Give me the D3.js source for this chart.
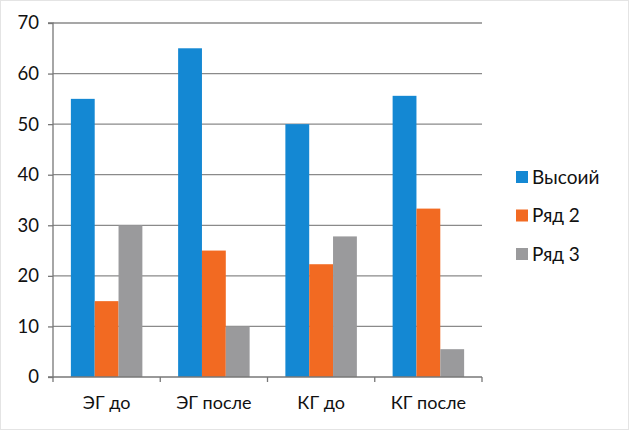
<!DOCTYPE html>
<html><head><meta charset="utf-8">
<script src="https://cdn.jsdelivr.net/npm/d3@7"></script>
<style>body{margin:0;background:#fff}svg{display:block}text{font-family:Lato,"Open Sans",sans-serif;fill:#111}</style>
</head><body>
<svg id="c" width="629" height="430"></svg>
<script>
const categories = ["ЭГ до", "ЭГ после", "КГ до", "КГ после"];
const seriesNames = ["Высоий", "Ряд 2", "Ряд 3"];
const series1 = [55, 65, 50, 55.6];
const series2 = [15, 25, 22.3, 33.3];
const series3 = [30, 10, 27.8, 5.5];
const yTicks = [0, 10, 20, 30, 40, 50, 60, 70];
const colors = ["#1488d3", "#f26a22", "#9a9a9c"];

const svg = d3.select("#c");
svg.append("rect").attr("x",0.5).attr("y",0.5).attr("width",628).attr("height",429).attr("fill","#fff").attr("stroke","#e4e4e4");
const L = 53, R = 482, T = 23, B = 377;
const x = d3.scaleBand().domain(categories).range([L, R]);
const y = d3.scaleLinear().domain([0, 70]).range([B, T]);

// gridlines
svg.append("g").selectAll("line").data(yTicks.filter(d=>d>0)).join("line")
  .attr("x1", L).attr("x2", R).attr("y1", d=>y(d)).attr("y2", d=>y(d))
  .attr("stroke", "#8a8a8a").attr("stroke-width", 1.3);

const allSeries = [series1, series2, series3];
const bw = x.bandwidth() / 4.5;
const sub = d3.scaleBand().domain(seriesNames).range([0, 3*bw]);
const g = svg.append("g");
allSeries.forEach((vals, si) => {
  g.selectAll(null).data(vals).join("rect")
    .attr("x", (d,i) => x(categories[i]) + 0.75*bw + sub(seriesNames[si]))
    .attr("y", d => y(d)).attr("width", sub.bandwidth()).attr("height", d => B - y(d))
    .attr("fill", colors[si]);
});

// y axis
const ya = svg.append("g").attr("transform", `translate(${L},0)`)
  .call(d3.axisLeft(y).tickValues(yTicks).tickSize(5).tickPadding(9));
ya.select(".domain").attr("stroke","#777").attr("stroke-width",1.3).attr("d", `M-5,${T}H0V${B}H-5`);
ya.selectAll(".tick line").attr("stroke","#777").attr("stroke-width",1.3);
ya.selectAll("text").attr("font-size", 18.5).style("font-family","Lato,'Open Sans',sans-serif").attr("fill","#111");

// x axis
const xa = svg.append("g").attr("transform", `translate(0,${B})`)
  .call(d3.axisBottom(x).tickSize(0).tickPadding(19));
xa.select(".domain").attr("stroke","#777").attr("stroke-width",1.3).attr("d", `M${L},0H${R}`);
xa.selectAll("text").attr("font-size", 18).style("font-family","Lato,'Open Sans',sans-serif").attr("fill","#111");
xa.selectAll(".xt").data(d3.range(categories.length+1)).join("line").attr("class","xt")
  .attr("x1", i => L + i*x.bandwidth()).attr("x2", i => L + i*x.bandwidth())
  .attr("y1", 0).attr("y2", 5).attr("stroke","#777").attr("stroke-width",1.3);

// legend
const lg = svg.append("g").attr("transform","translate(516,177)");
seriesNames.forEach((n,i) => {
  const r = lg.append("g").attr("transform", `translate(0,${i*38.5})`);
  r.append("rect").attr("x",0).attr("y",-6).attr("width",12).attr("height",12).attr("fill",colors[i]);
  r.append("text").attr("x",16).attr("y",0).attr("dy","0.35em").attr("font-size",19).text(n);
});
</script>
</body></html>
